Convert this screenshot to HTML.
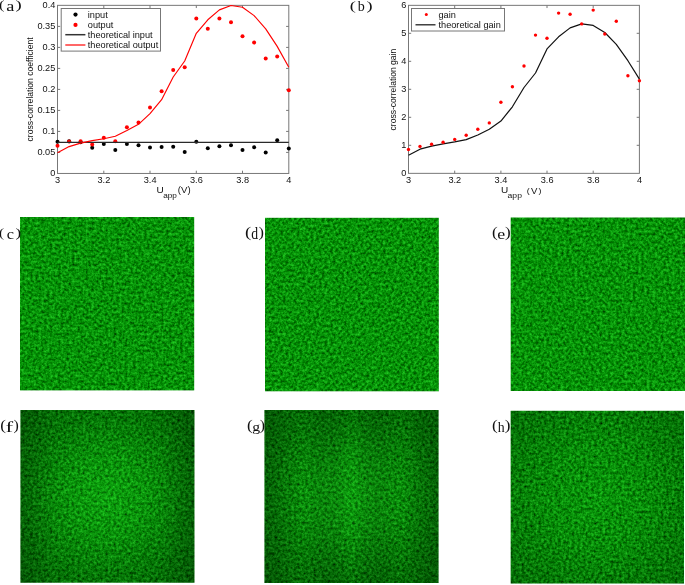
<!DOCTYPE html>
<html><head><meta charset="utf-8"><title>figure</title>
<style>
html,body{margin:0;padding:0;background:#fff;}
body{width:685px;height:585px;overflow:hidden;}
svg{display:block;}
.t{font-family:"Liberation Sans",sans-serif;fill:#111;}
.s{font-family:"Liberation Serif",serif;fill:#111;}
</style></head><body>
<svg style="will-change:transform" width="685" height="585" viewBox="0 0 685 585">
<defs>
<filter id="n0" x="0" y="0" width="100%" height="100%" color-interpolation-filters="sRGB">
<feTurbulence type="fractalNoise" baseFrequency="0.36" numOctaves="3" seed="3" result="t"/>
<feColorMatrix in="t" type="matrix" values="0 0.3 0 0 -0.125  0 0.95 0 0 0.0  0 0.3 0 0 -0.12  0 0 0 0 1"/>
<feComponentTransfer><feFuncG type="gamma" amplitude="0.89" exponent="0.6" offset="0"/></feComponentTransfer>
<feGaussianBlur stdDeviation="0.3"/>
<feComposite in2="SourceGraphic" operator="in"/>
</filter><filter id="n1" x="0" y="0" width="100%" height="100%" color-interpolation-filters="sRGB">
<feTurbulence type="fractalNoise" baseFrequency="0.36" numOctaves="3" seed="10" result="t"/>
<feColorMatrix in="t" type="matrix" values="0 0.3 0 0 -0.125  0 0.95 0 0 0.0  0 0.3 0 0 -0.12  0 0 0 0 1"/>
<feComponentTransfer><feFuncG type="gamma" amplitude="0.89" exponent="0.6" offset="0"/></feComponentTransfer>
<feGaussianBlur stdDeviation="0.3"/>
<feComposite in2="SourceGraphic" operator="in"/>
</filter><filter id="n2" x="0" y="0" width="100%" height="100%" color-interpolation-filters="sRGB">
<feTurbulence type="fractalNoise" baseFrequency="0.36" numOctaves="3" seed="17" result="t"/>
<feColorMatrix in="t" type="matrix" values="0 0.3 0 0 -0.125  0 0.95 0 0 0.0  0 0.3 0 0 -0.12  0 0 0 0 1"/>
<feComponentTransfer><feFuncG type="gamma" amplitude="0.89" exponent="0.6" offset="0"/></feComponentTransfer>
<feGaussianBlur stdDeviation="0.3"/>
<feComposite in2="SourceGraphic" operator="in"/>
</filter><filter id="n3" x="0" y="0" width="100%" height="100%" color-interpolation-filters="sRGB">
<feTurbulence type="fractalNoise" baseFrequency="0.36" numOctaves="3" seed="24" result="t"/>
<feColorMatrix in="t" type="matrix" values="0 0.3 0 0 -0.125  0 1.0 0 0 -0.03  0 0.3 0 0 -0.12  0 0 0 0 1"/>
<feComponentTransfer><feFuncG type="gamma" amplitude="0.89" exponent="0.6" offset="0"/></feComponentTransfer>
<feGaussianBlur stdDeviation="0.3"/>
<feComposite in2="SourceGraphic" operator="in"/>
</filter><filter id="n4" x="0" y="0" width="100%" height="100%" color-interpolation-filters="sRGB">
<feTurbulence type="fractalNoise" baseFrequency="0.36" numOctaves="3" seed="31" result="t"/>
<feColorMatrix in="t" type="matrix" values="0 0.3 0 0 -0.125  0 1.0 0 0 -0.03  0 0.3 0 0 -0.12  0 0 0 0 1"/>
<feComponentTransfer><feFuncG type="gamma" amplitude="0.89" exponent="0.6" offset="0"/></feComponentTransfer>
<feGaussianBlur stdDeviation="0.3"/>
<feComposite in2="SourceGraphic" operator="in"/>
</filter><filter id="n5" x="0" y="0" width="100%" height="100%" color-interpolation-filters="sRGB">
<feTurbulence type="fractalNoise" baseFrequency="0.36" numOctaves="3" seed="38" result="t"/>
<feColorMatrix in="t" type="matrix" values="0 0.3 0 0 -0.125  0 1.0 0 0 -0.03  0 0.3 0 0 -0.12  0 0 0 0 1"/>
<feComponentTransfer><feFuncG type="gamma" amplitude="0.89" exponent="0.6" offset="0"/></feComponentTransfer>
<feGaussianBlur stdDeviation="0.3"/>
<feComposite in2="SourceGraphic" operator="in"/>
</filter>
<radialGradient id="v1" cx="50%" cy="50%" r="75%">
<stop offset="0" stop-color="#000" stop-opacity="0"/>
<stop offset="0.3" stop-color="#000" stop-opacity="0.05"/>
<stop offset="0.667" stop-color="#000" stop-opacity="0.21"/>
<stop offset="0.95" stop-color="#000" stop-opacity="0.31"/>
</radialGradient>
<radialGradient id="v2" cx="50%" cy="50%" r="75%">
<stop offset="0" stop-color="#000" stop-opacity="0"/>
<stop offset="0.3" stop-color="#000" stop-opacity="0.05"/>
<stop offset="0.667" stop-color="#000" stop-opacity="0.22"/>
<stop offset="0.95" stop-color="#000" stop-opacity="0.31"/>
</radialGradient>
<radialGradient id="c1" cx="50%" cy="50%" r="50%">
<stop offset="0" stop-color="#3f3" stop-opacity="0.14"/>
<stop offset="0.5" stop-color="#3f3" stop-opacity="0.07"/>
<stop offset="1" stop-color="#3f3" stop-opacity="0"/>
</radialGradient>
<linearGradient id="lr" x1="0" x2="1" y1="0" y2="0">
<stop offset="0" stop-color="#000" stop-opacity="0.15"/>
<stop offset="0.2" stop-color="#000" stop-opacity="0"/>
<stop offset="0.8" stop-color="#000" stop-opacity="0"/>
<stop offset="1" stop-color="#000" stop-opacity="0.15"/>
</linearGradient>
<linearGradient id="st" x1="0" x2="1" y1="0" y2="0">
<stop offset="0.22" stop-color="#000" stop-opacity="0"/>
<stop offset="0.33" stop-color="#000" stop-opacity="0.12"/>
<stop offset="0.41" stop-color="#000" stop-opacity="0.12"/>
<stop offset="0.5" stop-color="#000" stop-opacity="0.02"/>
<stop offset="0.59" stop-color="#000" stop-opacity="0.12"/>
<stop offset="0.67" stop-color="#000" stop-opacity="0.12"/>
<stop offset="0.78" stop-color="#000" stop-opacity="0"/>
</linearGradient>
<radialGradient id="v3" cx="50%" cy="50%" r="75%">
<stop offset="0" stop-color="#000" stop-opacity="0.02"/>
<stop offset="0.4" stop-color="#000" stop-opacity="0.06"/>
<stop offset="0.667" stop-color="#000" stop-opacity="0.15"/>
<stop offset="0.95" stop-color="#000" stop-opacity="0.25"/>
</radialGradient>
<radialGradient id="c3" cx="50%" cy="50%" r="50%">
<stop offset="0" stop-color="#3f3" stop-opacity="0.06"/>
<stop offset="1" stop-color="#3f3" stop-opacity="0"/>
</radialGradient>
</defs>
<rect width="685" height="585" fill="#fff"/>
<rect x="57.5" y="5.35" width="231.3" height="168.1" fill="#fff" stroke="#777" stroke-width="1"/><path d="M103.8 173.4v-2.7M103.8 5.35v2.7" stroke="#777" stroke-width="1"/><path d="M150.0 173.4v-2.7M150.0 5.35v2.7" stroke="#777" stroke-width="1"/><path d="M196.3 173.4v-2.7M196.3 5.35v2.7" stroke="#777" stroke-width="1"/><path d="M242.5 173.4v-2.7M242.5 5.35v2.7" stroke="#777" stroke-width="1"/><path d="M57.5 152.4h2.7M288.8 152.4h-2.7" stroke="#777" stroke-width="1"/><path d="M57.5 131.4h2.7M288.8 131.4h-2.7" stroke="#777" stroke-width="1"/><path d="M57.5 110.4h2.7M288.8 110.4h-2.7" stroke="#777" stroke-width="1"/><path d="M57.5 89.4h2.7M288.8 89.4h-2.7" stroke="#777" stroke-width="1"/><path d="M57.5 68.4h2.7M288.8 68.4h-2.7" stroke="#777" stroke-width="1"/><path d="M57.5 47.4h2.7M288.8 47.4h-2.7" stroke="#777" stroke-width="1"/><path d="M57.5 26.4h2.7M288.8 26.4h-2.7" stroke="#777" stroke-width="1"/><text transform="translate(57.60,183.40) scale(1.0,0.89)" text-anchor="middle" font-size="9.2" class="t">3</text><text transform="translate(103.86,183.40) scale(1.0,0.89)" text-anchor="middle" font-size="9.2" class="t">3.2</text><text transform="translate(150.12,183.40) scale(1.0,0.89)" text-anchor="middle" font-size="9.2" class="t">3.4</text><text transform="translate(196.38,183.40) scale(1.0,0.89)" text-anchor="middle" font-size="9.2" class="t">3.6</text><text transform="translate(242.64,183.40) scale(1.0,0.89)" text-anchor="middle" font-size="9.2" class="t">3.8</text><text transform="translate(288.90,183.40) scale(1.0,0.89)" text-anchor="middle" font-size="9.2" class="t">4</text><text transform="translate(55.30,176.30) scale(1.0,0.89)" text-anchor="end" font-size="9.2" class="t">0</text><text transform="translate(55.30,155.29) scale(1.0,0.89)" text-anchor="end" font-size="9.2" class="t">0.05</text><text transform="translate(55.30,134.29) scale(1.0,0.89)" text-anchor="end" font-size="9.2" class="t">0.1</text><text transform="translate(55.30,113.28) scale(1.0,0.89)" text-anchor="end" font-size="9.2" class="t">0.15</text><text transform="translate(55.30,92.28) scale(1.0,0.89)" text-anchor="end" font-size="9.2" class="t">0.2</text><text transform="translate(55.30,71.27) scale(1.0,0.89)" text-anchor="end" font-size="9.2" class="t">0.25</text><text transform="translate(55.30,50.26) scale(1.0,0.89)" text-anchor="end" font-size="9.2" class="t">0.3</text><text transform="translate(55.30,29.26) scale(1.0,0.89)" text-anchor="end" font-size="9.2" class="t">0.35</text><text transform="translate(55.30,8.25) scale(1.0,0.89)" text-anchor="end" font-size="9.2" class="t">0.4</text><circle cx="57.5" cy="141.8" r="2.0" fill="#000"/><circle cx="69.1" cy="141.3" r="2.0" fill="#000"/><circle cx="80.6" cy="142.3" r="2.0" fill="#000"/><circle cx="92.2" cy="147.8" r="2.0" fill="#000"/><circle cx="103.8" cy="144.0" r="2.0" fill="#000"/><circle cx="115.3" cy="150.1" r="2.0" fill="#000"/><circle cx="126.9" cy="144.0" r="2.0" fill="#000"/><circle cx="138.5" cy="145.3" r="2.0" fill="#000"/><circle cx="150.0" cy="147.5" r="2.0" fill="#000"/><circle cx="161.6" cy="147.0" r="2.0" fill="#000"/><circle cx="173.2" cy="146.7" r="2.0" fill="#000"/><circle cx="184.7" cy="151.9" r="2.0" fill="#000"/><circle cx="196.3" cy="141.7" r="2.0" fill="#000"/><circle cx="207.8" cy="148.2" r="2.0" fill="#000"/><circle cx="219.4" cy="146.2" r="2.0" fill="#000"/><circle cx="231.0" cy="145.2" r="2.0" fill="#000"/><circle cx="242.5" cy="149.9" r="2.0" fill="#000"/><circle cx="254.1" cy="147.2" r="2.0" fill="#000"/><circle cx="265.7" cy="152.4" r="2.0" fill="#000"/><circle cx="277.2" cy="140.2" r="2.0" fill="#000"/><circle cx="288.8" cy="148.4" r="2.0" fill="#000"/><circle cx="57.5" cy="145.8" r="2.0" fill="#f00"/><circle cx="69.1" cy="141.5" r="2.0" fill="#f00"/><circle cx="80.6" cy="141.3" r="2.0" fill="#f00"/><circle cx="92.2" cy="144.5" r="2.0" fill="#f00"/><circle cx="103.8" cy="137.7" r="2.0" fill="#f00"/><circle cx="115.3" cy="141.3" r="2.0" fill="#f00"/><circle cx="126.9" cy="127.3" r="2.0" fill="#f00"/><circle cx="138.5" cy="122.5" r="2.0" fill="#f00"/><circle cx="150.0" cy="107.5" r="2.0" fill="#f00"/><circle cx="161.6" cy="91.2" r="2.0" fill="#f00"/><circle cx="173.2" cy="70.0" r="2.0" fill="#f00"/><circle cx="184.7" cy="67.3" r="2.0" fill="#f00"/><circle cx="196.3" cy="18.6" r="2.0" fill="#f00"/><circle cx="207.8" cy="28.7" r="2.0" fill="#f00"/><circle cx="219.4" cy="18.5" r="2.0" fill="#f00"/><circle cx="231.0" cy="22.2" r="2.0" fill="#f00"/><circle cx="242.5" cy="36.3" r="2.0" fill="#f00"/><circle cx="254.1" cy="42.6" r="2.0" fill="#f00"/><circle cx="265.7" cy="58.5" r="2.0" fill="#f00"/><circle cx="277.2" cy="56.6" r="2.0" fill="#f00"/><circle cx="288.8" cy="90.3" r="2.0" fill="#f00"/><line x1="57.5" y1="142.3" x2="288.8" y2="142.3" stroke="#2a2a2a" stroke-width="1.35"/><polyline points="57.5,152.8 69.1,146.6 80.6,143.1 92.2,140.6 103.8,138.8 115.3,136.3 126.9,130.5 138.5,124.3 150.0,113.7 161.6,99.7 173.2,77.0 184.7,61.0 196.3,33.3 207.8,19.8 219.4,9.9 231.0,5.5 242.5,7.3 254.1,15.6 265.7,28.9 277.2,46.4 288.8,67.3" fill="none" stroke="#f00" stroke-width="1.15" stroke-linejoin="round"/><rect x="61.2" y="8.5" width="99.3" height="42.6" fill="#fff" stroke="#777" stroke-width="1"/><circle cx="75.5" cy="14.6" r="2.1" fill="#000"/><circle cx="75.5" cy="24.9" r="2.1" fill="#f00"/><line x1="65.3" y1="34.7" x2="85.4" y2="34.7" stroke="#333" stroke-width="1.5"/><line x1="65.3" y1="45" x2="85.4" y2="45" stroke="#f00" stroke-width="1.2"/><text transform="translate(87.80,17.50) scale(1.0,0.89)" text-anchor="start" font-size="9.2" class="t">input</text><text transform="translate(87.80,27.70) scale(1.0,0.89)" text-anchor="start" font-size="9.2" class="t">output</text><text transform="translate(87.80,37.90) scale(1.0,0.89)" text-anchor="start" font-size="9.2" class="t">theoretical input</text><text transform="translate(87.80,48.10) scale(1.0,0.89)" text-anchor="start" font-size="9.2" class="t">theoretical output</text><text transform="translate(33.20,89.40) rotate(-90) scale(0.933,1.0)" text-anchor="middle" font-size="9.2" class="t">cross-correlation coefficient</text><text transform="translate(156.50,193.40) scale(1.0,0.89)" text-anchor="start" font-size="10" class="t">U</text><text transform="translate(163.20,197.50) scale(1.0,0.89)" text-anchor="start" font-size="8.2" class="t">app</text><text transform="translate(177.80,193.00) scale(1.0,0.89)" text-anchor="start" font-size="9.6" class="t">(V)</text><rect x="408.5" y="5.35" width="230.9" height="168.0" fill="#fff" stroke="#777" stroke-width="1"/><path d="M454.7 173.35v-2.7M454.7 5.35v2.7" stroke="#777" stroke-width="1"/><path d="M500.9 173.35v-2.7M500.9 5.35v2.7" stroke="#777" stroke-width="1"/><path d="M547.0 173.35v-2.7M547.0 5.35v2.7" stroke="#777" stroke-width="1"/><path d="M593.2 173.35v-2.7M593.2 5.35v2.7" stroke="#777" stroke-width="1"/><path d="M408.5 145.3h2.7M639.4 145.3h-2.7" stroke="#777" stroke-width="1"/><path d="M408.5 117.3h2.7M639.4 117.3h-2.7" stroke="#777" stroke-width="1"/><path d="M408.5 89.3h2.7M639.4 89.3h-2.7" stroke="#777" stroke-width="1"/><path d="M408.5 61.3h2.7M639.4 61.3h-2.7" stroke="#777" stroke-width="1"/><path d="M408.5 33.3h2.7M639.4 33.3h-2.7" stroke="#777" stroke-width="1"/><text transform="translate(408.60,183.35) scale(1.0,0.89)" text-anchor="middle" font-size="9.2" class="t">3</text><text transform="translate(454.78,183.35) scale(1.0,0.89)" text-anchor="middle" font-size="9.2" class="t">3.2</text><text transform="translate(500.96,183.35) scale(1.0,0.89)" text-anchor="middle" font-size="9.2" class="t">3.4</text><text transform="translate(547.14,183.35) scale(1.0,0.89)" text-anchor="middle" font-size="9.2" class="t">3.6</text><text transform="translate(593.32,183.35) scale(1.0,0.89)" text-anchor="middle" font-size="9.2" class="t">3.8</text><text transform="translate(639.50,183.35) scale(1.0,0.89)" text-anchor="middle" font-size="9.2" class="t">4</text><text transform="translate(406.30,176.25) scale(1.0,0.89)" text-anchor="end" font-size="9.2" class="t">0</text><text transform="translate(406.30,148.25) scale(1.0,0.89)" text-anchor="end" font-size="9.2" class="t">1</text><text transform="translate(406.30,120.25) scale(1.0,0.89)" text-anchor="end" font-size="9.2" class="t">2</text><text transform="translate(406.30,92.25) scale(1.0,0.89)" text-anchor="end" font-size="9.2" class="t">3</text><text transform="translate(406.30,64.25) scale(1.0,0.89)" text-anchor="end" font-size="9.2" class="t">4</text><text transform="translate(406.30,36.25) scale(1.0,0.89)" text-anchor="end" font-size="9.2" class="t">5</text><text transform="translate(406.30,8.25) scale(1.0,0.89)" text-anchor="end" font-size="9.2" class="t">6</text><polyline points="408.5,155.2 420.0,149.2 431.6,146.1 443.1,143.9 454.7,141.9 466.2,139.6 477.8,135.0 489.3,129.3 500.9,121.1 512.4,106.8 524.0,87.5 535.5,73.0 547.0,48.9 558.6,36.8 570.1,27.9 581.7,23.9 593.2,25.4 604.8,32.5 616.3,44.4 627.9,60.7 639.4,79.1" fill="none" stroke="#111" stroke-width="1.2" stroke-linejoin="round"/><circle cx="408.5" cy="149.5" r="1.7" fill="#f00"/><circle cx="420.0" cy="146.4" r="1.7" fill="#f00"/><circle cx="431.6" cy="144.2" r="1.7" fill="#f00"/><circle cx="443.1" cy="142.2" r="1.7" fill="#f00"/><circle cx="454.7" cy="139.4" r="1.7" fill="#f00"/><circle cx="466.2" cy="135.2" r="1.7" fill="#f00"/><circle cx="477.8" cy="129.3" r="1.7" fill="#f00"/><circle cx="489.3" cy="122.9" r="1.7" fill="#f00"/><circle cx="500.9" cy="102.2" r="1.7" fill="#f00"/><circle cx="512.4" cy="86.8" r="1.7" fill="#f00"/><circle cx="524.0" cy="66.0" r="1.7" fill="#f00"/><circle cx="535.5" cy="35.1" r="1.7" fill="#f00"/><circle cx="547.0" cy="38.2" r="1.7" fill="#f00"/><circle cx="558.6" cy="13.1" r="1.7" fill="#f00"/><circle cx="570.1" cy="14.3" r="1.7" fill="#f00"/><circle cx="581.7" cy="23.9" r="1.7" fill="#f00"/><circle cx="593.2" cy="10.1" r="1.7" fill="#f00"/><circle cx="604.8" cy="34.0" r="1.7" fill="#f00"/><circle cx="616.3" cy="21.2" r="1.7" fill="#f00"/><circle cx="627.9" cy="75.7" r="1.7" fill="#f00"/><circle cx="639.4" cy="80.7" r="1.7" fill="#f00"/><rect x="411.5" y="8.5" width="93" height="22.5" fill="#fff" stroke="#777" stroke-width="1"/><circle cx="426.3" cy="14.6" r="1.5" fill="#f00"/><line x1="415.5" y1="24.8" x2="435.5" y2="24.8" stroke="#222" stroke-width="1.3"/><text transform="translate(438.50,17.50) scale(1.0,0.89)" text-anchor="start" font-size="9.2" class="t">gain</text><text transform="translate(438.50,27.70) scale(1.0,0.89)" text-anchor="start" font-size="9.2" class="t">theoretical gain</text><text transform="translate(396.40,89.60) rotate(-90) scale(0.93,1.0)" text-anchor="middle" font-size="9.2" class="t">cross-correlation gain</text><text transform="translate(500.90,193.40) scale(1.0,0.89)" text-anchor="start" font-size="10" class="t">U</text><text transform="translate(507.60,197.50) scale(1.0,0.89)" text-anchor="start" font-size="8.6" class="t">app</text><text transform="translate(526.70,192.60) scale(1.0,0.89)" text-anchor="start" font-size="8.8" class="t">(</text><text transform="translate(530.90,193.60) scale(1.0,0.89)" text-anchor="start" font-size="9.6" class="t">V</text><text transform="translate(538.60,192.60) scale(1.0,0.89)" text-anchor="start" font-size="8.8" class="t">)</text><rect x="20" y="217" width="174.2" height="173.4" fill="#089608" filter="url(#n0)"/><rect x="265" y="217.8" width="173.8" height="173.5" fill="#089608" filter="url(#n1)"/><rect x="510.7" y="217.5" width="174.3" height="173.5" fill="#089608" filter="url(#n2)"/><rect x="20.5" y="410" width="173.9" height="172.7" fill="#089608" filter="url(#n3)"/><rect x="20.5" y="410" width="173.9" height="172.7" fill="url(#c1)"/><rect x="20.5" y="410" width="173.9" height="172.7" fill="url(#v1)"/><rect x="20.5" y="410" width="173.9" height="172.7" fill="url(#lr)"/><rect x="264.5" y="410" width="174.0" height="173.0" fill="#089608" filter="url(#n4)"/><rect x="264.5" y="410" width="174.0" height="173.0" fill="url(#c1)"/><rect x="264.5" y="410" width="174.0" height="173.0" fill="url(#v2)"/><rect x="264.5" y="410" width="174.0" height="173.0" fill="url(#lr)"/><rect x="264.5" y="410" width="174.0" height="173.0" fill="url(#st)"/><rect x="510.7" y="410.8" width="173.3" height="172.7" fill="#089608" filter="url(#n5)"/><rect x="510.7" y="410.8" width="173.3" height="172.7" fill="url(#c3)"/><rect x="510.7" y="410.8" width="173.3" height="172.7" fill="url(#v3)"/><text transform="translate(-1.02,9.03) scale(1.256,1)" font-size="13.01" class="s">(</text><text transform="translate(6.16,11.15) scale(1.180,1)" font-size="15.45" class="s">a</text><text transform="translate(15.60,9.03) scale(1.436,1)" font-size="13.01" class="s">)</text><text transform="translate(349.70,9.51) scale(1.565,1)" font-size="11.69" class="s">(</text><text transform="translate(357.80,11.26) scale(1.026,1)" font-size="13.71" class="s">b</text><text transform="translate(366.51,9.51) scale(1.565,1)" font-size="11.69" class="s">)</text><text transform="translate(-0.97,236.88) scale(1.147,1)" font-size="13.23" class="s">(</text><text transform="translate(6.68,238.65) scale(1.057,1)" font-size="15.38" class="s">c</text><text transform="translate(15.45,236.88) scale(1.294,1)" font-size="13.23" class="s">)</text><text transform="translate(245.08,237.03) scale(1.255,1)" font-size="14.88" class="s">(</text><text transform="translate(251.31,238.63) scale(0.798,1)" font-size="17.19" class="s">d</text><text transform="translate(258.58,237.03) scale(1.098,1)" font-size="14.88" class="s">)</text><text transform="translate(492.05,236.78) scale(1.133,1)" font-size="15.10" class="s">(</text><text transform="translate(497.20,238.66) scale(1.281,1)" font-size="13.93" class="s">e</text><text transform="translate(504.95,236.78) scale(1.133,1)" font-size="15.10" class="s">)</text><text transform="translate(0.15,429.83) scale(1.150,1)" font-size="14.88" class="s">(</text><text transform="translate(5.49,431.70) scale(1.503,1)" font-size="15.20" class="s">f</text><text transform="translate(13.49,429.83) scale(1.072,1)" font-size="14.88" class="s">)</text><text transform="translate(247.05,429.83) scale(1.150,1)" font-size="14.88" class="s">(</text><text transform="translate(252.22,430.80) scale(1.262,1)" font-size="12.48" class="s">g</text><text transform="translate(259.70,429.83) scale(1.046,1)" font-size="14.88" class="s">)</text><text transform="translate(492.05,429.83) scale(1.150,1)" font-size="14.88" class="s">(</text><text transform="translate(497.76,431.70) scale(0.906,1)" font-size="15.27" class="s">h</text><text transform="translate(504.85,429.83) scale(1.150,1)" font-size="14.88" class="s">)</text>
</svg>
</body></html>
